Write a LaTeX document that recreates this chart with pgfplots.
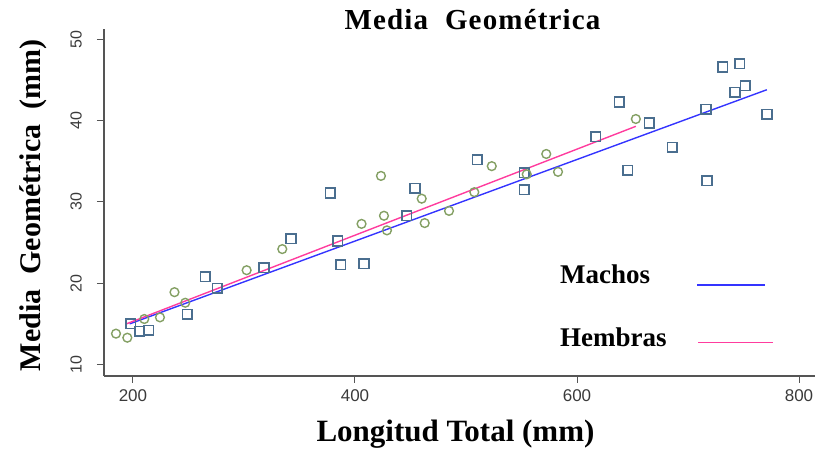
\documentclass[border=0pt]{standalone}
\usepackage{fontspec}
\setmainfont{Liberation Serif}
\setsansfont{Liberation Sans}
\usepackage{pgfplots}
\pgfplotsset{compat=1.18}
\usepackage{pgfplotstable}
\definecolor{sqcol}{HTML}{4A6E8F}
\definecolor{circol}{HTML}{84A064}
\definecolor{bluel}{HTML}{3434FF}
\definecolor{pinkl}{HTML}{FF3C9E}
\definecolor{axcol}{HTML}{555555}
\definecolor{tickcol}{HTML}{3A3A3A}

\pgfplotstableread{
x y
197.9 15.0
206.0 14.1
214.1 14.2
248.9 16.2
265.1 20.8
276.0 19.4
318.0 21.9
342.3 25.5
377.7 31.1
384.4 25.2
387.1 22.3
408.1 22.4
446.6 28.3
454.1 31.7
510.2 35.2
552.5 33.6
552.5 31.5
616.8 38.0
638.1 42.3
645.7 33.9
665.1 39.7
685.9 36.7
716.2 41.4
717.1 32.6
731.3 46.6
746.6 47.0
751.6 44.3
742.3 43.5
771.2 40.8
}\machos

\pgfplotstableread{
x y
184.7 13.8
194.9 13.3
210.2 15.6
224.3 15.8
237.4 18.9
247.1 17.6
302.4 21.6
334.5 24.2
405.9 27.3
423.4 33.2
426.1 28.3
428.8 26.5
460.1 30.4
462.8 27.4
484.7 28.9
507.5 31.2
523.2 34.4
554.7 33.4
572.3 35.9
582.9 33.7
653.0 40.2
}\hembras

\begin{document}
\begin{tikzpicture}[x=1pt,y=1pt]
\path[use as bounding box] (-104,-82) rectangle (713,376);
\begin{axis}[
  at={(0,0)}, anchor=south west,
  scale only axis, width=711pt, height=347pt,
  xmin=173.9, xmax=814.4, ymin=8.59, ymax=51.27,
  axis lines=left,
  axis line style={-, color=axcol, line width=1.1pt},
  xtick={200,400,600,800}, ytick={10,20,30,40,50},
  tick align=outside, major tick length=7pt,
  tick style={color=axcol, line width=1pt},
  /pgf/number format/assume math mode=true,
  ticklabel style={font=\sffamily\fontsize{17}{17}\selectfont, text=tickcol},
  xticklabel style={yshift=-3pt},
  yticklabel style={rotate=90, anchor=south, inner ysep=15pt, font=\sffamily\fontsize{16}{16}\selectfont},
  clip=false,
]
\addplot[only marks, mark=square, mark size=4.8pt, mark options={draw=sqcol, line width=1.6pt}] table[x=x,y=y]{\machos};
\addplot[only marks, mark=o, mark size=4.4pt, mark options={draw=circol, line width=1.4pt}] table[x=x,y=y]{\hembras};
\addplot[bluel, line width=1.4pt] coordinates {(197,15.0) (771,43.8)};
\addplot[pinkl, line width=1.4pt] coordinates {(194,15.0) (653,39.3)};
\end{axis}
\node[anchor=base, font=\bfseries\fontsize{29}{29}\selectfont\addfontfeatures{LetterSpace=4}] at (368.5,346.7) {Media\ \ Geométrica};
\node[anchor=base, rotate=90, font=\bfseries\fontsize{30}{30}\selectfont] at (-63,170.5) {Media\ \ Geométrica\ \ (mm)};
\node[anchor=base, font=\bfseries\fontsize{31}{31}\selectfont] at (351.5,-65) {Longitud Total (mm)};
\node[anchor=base west, inner sep=0pt, font=\bfseries\fontsize{27}{27}\selectfont] at (456,92) {Machos};
\node[anchor=base west, inner sep=0pt, font=\bfseries\fontsize{27}{27}\selectfont] at (456,29.3) {Hembras};
\draw[bluel, line width=1.4pt] (593,91) -- (661,91);
\draw[pinkl, line width=1.4pt] (594,33.3) -- (669,33.3);
\end{tikzpicture}
\end{document}
